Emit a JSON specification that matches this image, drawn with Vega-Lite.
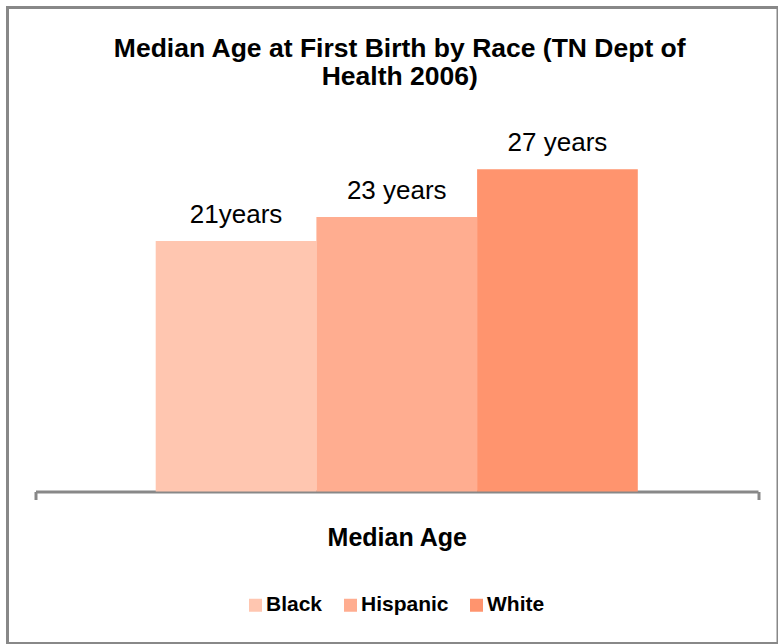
{
  "$schema": "https://vega.github.io/schema/vega-lite/v6.json",
  "width": 770.5,
  "height": 636,
  "autosize": {"type": "none"},
  "padding": {"left": 7.5, "top": 7.5, "right": 0, "bottom": 0},
  "background": "white",
  "config": {
    "view": {"stroke": "#888888", "strokeWidth": 3},
    "font": "Liberation Sans"
  },
  "title": {
    "text": ["Median Age at First Birth by Race (TN Dept of", "Health 2006)"],
    "fontSize": 26.5,
    "fontWeight": "bold",
    "font": "Liberation Sans",
    "color": "black",
    "anchor": "middle",
    "frame": "group",
    "lineHeight": 28,
    "offset": -83,
    "dx": 7
  },
  "data": {
    "values": [
      {"category": "Median Age", "race": "Black", "age": 21, "label": "21years"},
      {"category": "Median Age", "race": "Hispanic", "age": 23, "label": "23 years"},
      {"category": "Median Age", "race": "White", "age": 27, "label": "27 years"}
    ]
  },
  "encoding": {
    "x": {
      "field": "category",
      "type": "nominal",
      "title": null,
      "scale": {"range": [28, 750.5], "paddingInner": 0, "paddingOuter": 0},
      "axis": {
        "orient": "bottom",
        "offset": -152,
        "domainColor": "#888888",
        "domainWidth": 3,
        "tickColor": "#888888",
        "tickWidth": 3,
        "tickSize": 8,
        "tickBand": "extent",
        "labelFontSize": 25,
        "labelFontWeight": "bold",
        "labelColor": "black",
        "labelFont": "Liberation Sans",
        "labelPadding": 26,
        "labelAngle": 0
      }
    },
    "xOffset": {
      "field": "race",
      "type": "nominal",
      "sort": ["Black", "Hispanic", "White"],
      "scale": {"paddingInner": 0, "paddingOuter": 0.748}
    },
    "y": {
      "field": "age",
      "type": "quantitative",
      "scale": {"domain": [0, 30], "range": [484, 126]},
      "axis": null
    }
  },
  "layer": [
    {
      "mark": {"type": "bar", "strokeWidth": 0},
      "encoding": {
        "color": {
          "field": "race",
          "type": "nominal",
          "scale": {"domain": ["Black", "Hispanic", "White"], "range": ["#FFC6B0", "#FFAD90", "#FF946E"]},
          "legend": {
            "orient": "none",
            "legendX": 237.5,
            "legendY": 587,
            "direction": "horizontal",
            "title": null,
            "symbolType": "square",
            "symbolSize": 169,
            "symbolStrokeWidth": 0,
            "symbolOpacity": 1,
            "labelFontSize": 21,
            "labelFontWeight": "bold",
            "labelColor": "black",
            "labelFont": "Liberation Sans",
            "columnPadding": 17,
            "labelOffset": 0
          }
        }
      }
    },
    {
      "mark": {"type": "text", "baseline": "alphabetic", "dy": -18, "fontSize": 26, "color": "black", "font": "Liberation Sans"},
      "encoding": {
        "text": {"field": "label"}
      }
    }
  ]
}
